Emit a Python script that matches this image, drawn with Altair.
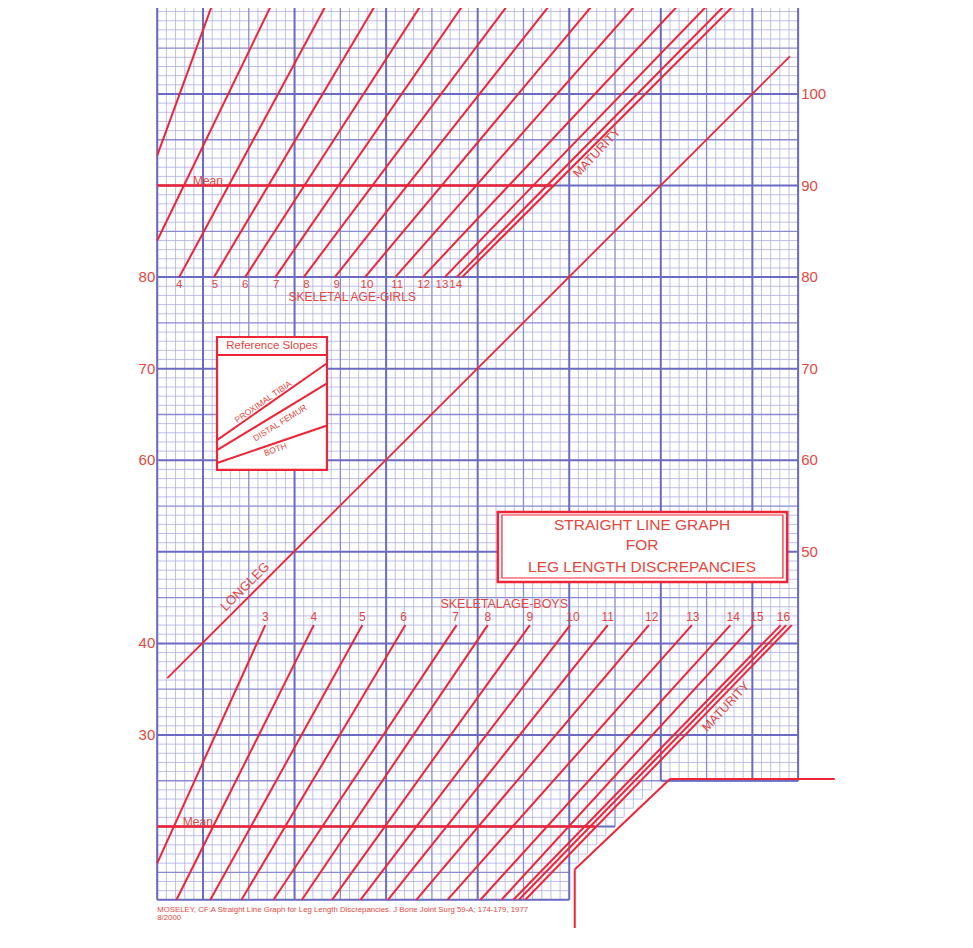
import altair as alt
import pandas as pd

# ---------------- view geometry (chart units) ----------------
X0, X1 = -11.3, 87.0
Y0, Y1 = 8.92, 109.39
W, H = 900, 920

RED = "#ee2536"
TXT = "#e4473e"
MAJOR = "#6a6ac2"
MID = "#8a8ad2"
MINOR = "#aeaee8"
FONT = "Liberation Sans"

# ---------------- data ----------------
left_ticks = [30, 40, 60, 70, 80]
right_ticks = [50, 60, 70, 80, 90, 100]

# girls skeletal-age lines (start -> end)
girls_name = ["2", "3", "4", "5", "6", "7", "8", "9", "10", "11", "12", "13", "14", "maturity"]
girls_x0 = [5.0, 5.0, 7.4, 11.2, 14.6, 17.9, 21.0, 24.4, 27.7, 31.0, 34.0, 36.4, 37.7, 38.3]
girls_y0 = [93.3, 84.0, 80, 80, 80, 80, 80, 80, 80, 80, 80, 80, 80, 80]
girls_x1 = [11.1, 17.6, 23.6, 29.0, 34.0, 38.6, 43.5, 48.1, 52.8, 57.5, 62.2, 65.4, 67.3, 68.3]
girls_y1 = [110, 110, 110, 110, 110, 110, 110, 110, 110, 110, 110, 110, 110, 110]

girls_labels = ["4", "5", "6", "7", "8", "9", "10", "11", "12", "13", "14"]
girls_label_x = [7.4, 11.3, 14.6, 18.0, 21.3, 24.6, 27.9, 31.2, 34.1, 36.1, 37.6]

# boys skeletal-age lines (bottom -> top)
boys_name = ["3", "4", "5", "6", "7", "8", "9", "10", "11", "12", "13", "14", "15", "16", "mat1", "mat2"]
boys_x0 = [5.0, 7.1, 10.8, 14.2, 17.7, 20.8, 24.1, 27.2, 30.2, 33.3, 36.7, 40.3, 42.6, 43.9, 44.5, 45.2]
boys_y0 = [16.0, 12, 12, 12, 12, 12, 12, 12, 12, 12, 12, 12, 12, 12, 12, 12]
boys_x1 = [16.8, 22.1, 27.4, 32.1, 37.7, 41.1, 45.7, 50.1, 54.2, 58.7, 63.4, 67.6, 70.1, 73.1, 73.7, 74.3]
boys_y1 = [42, 42, 42, 42, 42, 42, 42, 42, 42, 42, 42, 42, 42, 42, 42, 42]

boys_labels = ["3", "4", "5", "6", "7", "8", "9", "10", "11", "12", "13", "14", "15", "16"]
boys_label_x = [16.8, 22.1, 27.4, 31.9, 37.6, 41.1, 45.7, 50.4, 54.2, 59.0, 63.5, 67.9, 70.5, 73.4]

# long leg line
longleg_x = [6.1, 74.1]
longleg_y = [36.2, 104.1]

# mean lines
mean_y = [90, 20]
mean_x0 = [5, 5]
mean_x1 = [48.1, 52.8]

# notch outline (red)
notch_x = [50.6, 50.6, 61.0, 79.0]
notch_y = [6.7, 15.3, 25.2, 25.2]

# reference slopes inset
ref_box = [11.53, 58.94, 23.54, 73.46]   # x, y, x2, y2
ref_sep_y = 71.5
slope_name = ["PROXIMAL TIBIA", "DISTAL FEMUR", "BOTH"]
slope_y0 = [62.2, 61.1, 59.7]
slope_y1 = [70.6, 68.4, 63.8]
slope_text_x = [16.55, 18.4, 17.9]
slope_text_y = [66.4, 64.1, 61.2]
slope_text_angle = [325, 328, 340]

# title box
title_outer = [42.2, 46.7, 73.8, 54.35]
title_inner = [42.65, 47.14, 73.34, 54.02]
title_lines = ["STRAIGHT LINE GRAPH", "FOR", "LEG LENGTH DISCREPANCIES"]
title_y = [52.93, 50.75, 48.35]

citation = ["MOSELEY, CF:A Straight Line Graph for Leg Length Discrepancies. J Bone Joint Surg 59-A; 174-179, 1977",
            "8/2000"]
citation_y = [10.9, 10.0]

# ---------------- grid (graph paper, clipped by the notch) ----------------
def y_bottom(v):
    if v <= 50:
        return 12
    if v < 60:
        return 15 + (v - 50)
    return 25


def x_right(h):
    if h >= 25:
        return 75
    if h > 15:
        return 50 + (h - 15)
    return 50


grid_rows = []
for v in range(5, 76):
    lvl = "major" if v % 10 == 0 else ("mid" if v % 5 == 0 else "minor")
    grid_rows.append(dict(x=v, y=y_bottom(v), x2=v, y2=110, level=lvl))
for h in range(12, 111):
    lvl = "major" if h % 10 == 0 else ("mid" if h % 5 == 0 else "minor")
    grid_rows.append(dict(x=5, y=h, x2=x_right(h), y2=h, level=lvl))
grid = pd.DataFrame(grid_rows)
border = pd.DataFrame([
    dict(x=5, y=12, x2=5, y2=110),
    dict(x=75, y=25, x2=75, y2=110),
    dict(x=5, y=12, x2=50, y2=12),
    dict(x=60, y=25, x2=75, y2=25),
])

# ---------------- helpers ----------------
xs = alt.Scale(domain=[X0, X1], nice=False, zero=False)
ys = alt.Scale(domain=[Y0, Y1], nice=False, zero=False)


def rules(df, color, width):
    return alt.Chart(df).mark_rule(color=color, strokeWidth=width, clip=True).encode(
        x=alt.X("x:Q", scale=xs, axis=None),
        y=alt.Y("y:Q", scale=ys, axis=None),
        x2="x2:Q",
        y2="y2:Q",
    )


def texts(df, **kw):
    base = dict(font=FONT, color=TXT)
    base.update(kw)
    return alt.Chart(df).mark_text(**base).encode(
        x=alt.X("x:Q", scale=xs, axis=None),
        y=alt.Y("y:Q", scale=ys, axis=None),
        text="t:N",
    )


def seg_df(x0, y0, x1, y1):
    return pd.DataFrame(dict(x=x0, y=y0, x2=x1, y2=y1))


layers = []
layers.append(rules(grid[grid.level == "minor"], MINOR, 0.8))
layers.append(rules(grid[grid.level == "mid"], MID, 1.3))
layers.append(rules(grid[grid.level == "major"], MAJOR, 2.0))
layers.append(rules(border, MAJOR, 2.0))

# red construction lines
layers.append(rules(seg_df(girls_x0, girls_y0, girls_x1, girls_y1), RED, 2.0))
layers.append(rules(seg_df(boys_x0, boys_y0, boys_x1, boys_y1), RED, 2.0))
layers.append(rules(seg_df([longleg_x[0]], [longleg_y[0]], [longleg_x[1]], [longleg_y[1]]), RED, 1.8))
layers.append(rules(seg_df(mean_x0, mean_y, mean_x1, mean_y), RED, 2.5))
layers.append(rules(seg_df(notch_x[:-1], notch_y[:-1], notch_x[1:], notch_y[1:]), RED, 2.0))

# axis-like labels
layers.append(texts(pd.DataFrame(dict(x=[5] * len(left_ticks), y=left_ticks, t=[str(v) for v in left_ticks])),
                    align="right", baseline="middle", dx=-2, fontSize=15))
layers.append(texts(pd.DataFrame(dict(x=[75] * len(right_ticks), y=right_ticks, t=[str(v) for v in right_ticks])),
                    align="left", baseline="middle", dx=3, fontSize=15))

# age labels
layers.append(texts(pd.DataFrame(dict(x=girls_label_x, y=[80] * len(girls_labels), t=girls_labels)),
                    align="center", baseline="middle", dy=7.5, fontSize=11.5))
layers.append(texts(pd.DataFrame(dict(x=[26.3], y=[80], t=["SKELETAL AGE-GIRLS"])),
                    align="center", baseline="middle", dy=20, fontSize=12))
layers.append(texts(pd.DataFrame(dict(x=boys_label_x, y=[42] * len(boys_labels), t=boys_labels)),
                    align="center", baseline="middle", dy=-8, fontSize=12))
layers.append(texts(pd.DataFrame(dict(x=[42.9], y=[42], t=["SKELETALAGE-BOYS"])),
                    align="center", baseline="middle", dy=-21, fontSize=12.5))

# mean labels
layers.append(texts(pd.DataFrame(dict(x=[8.9, 7.8], y=mean_y, t=["Mean", "Mean"])),
                    align="left", baseline="alphabetic", dy=-1, fontSize=12))

# rotated labels
layers.append(texts(pd.DataFrame(dict(x=[14.6], y=[46.2], t=["LONGLEG"])),
                    align="center", baseline="middle", angle=315, fontSize=13))
layers.append(texts(pd.DataFrame(dict(x=[53.0], y=[93.6], t=["MATURITY"])),
                    align="center", baseline="middle", angle=313, fontSize=12.5))
layers.append(texts(pd.DataFrame(dict(x=[67.1], y=[33.1], t=["MATURITY"])),
                    align="center", baseline="middle", angle=313, fontSize=12.5))


# reference slopes inset
def rect(box, fill, width, stroke=RED):
    df = pd.DataFrame(dict(x=[box[0]], y=[box[1]], x2=[box[2]], y2=[box[3]]))
    kw = dict(stroke=stroke, strokeWidth=width, clip=True)
    if fill is None:
        kw["fillOpacity"] = 0
        kw["fill"] = "white"
    else:
        kw["fill"] = fill
    return alt.Chart(df).mark_rect(**kw).encode(
        x=alt.X("x:Q", scale=xs, axis=None),
        y=alt.Y("y:Q", scale=ys, axis=None),
        x2="x2:Q",
        y2="y2:Q",
    )


layers.append(rect(ref_box, "white", 2.2))
layers.append(rules(seg_df([ref_box[0]], [ref_sep_y], [ref_box[2]], [ref_sep_y]), RED, 2.0))
layers.append(rules(seg_df([ref_box[0]] * 3, slope_y0, [ref_box[2]] * 3, slope_y1), RED, 2.0))
layers.append(texts(pd.DataFrame(dict(x=[(ref_box[0] + ref_box[2]) / 2], y=[(ref_box[3] + ref_sep_y) / 2],
                                      t=["Reference Slopes"])),
                    align="center", baseline="middle", fontSize=11.5))
for name, tx, ty, ang in zip(slope_name, slope_text_x, slope_text_y, slope_text_angle):
    layers.append(texts(pd.DataFrame(dict(x=[tx], y=[ty], t=[name])),
                        align="center", baseline="middle", angle=ang, fontSize=8.5))

# title box
layers.append(rect(title_outer, "white", 2.5))
layers.append(rect(title_inner, None, 1.2))
layers.append(texts(pd.DataFrame(dict(x=[57.95] * 3, y=title_y, t=title_lines)),
                    align="center", baseline="middle", fontSize=15.5))

# citation
layers.append(texts(pd.DataFrame(dict(x=[5, 5], y=citation_y, t=citation)),
                    align="left", baseline="middle", fontSize=7.8))

chart = alt.layer(*layers).properties(
    width=W, height=H, padding=0,
    autosize=alt.AutoSizeParams(type="none"),
    background="white",
).configure_view(stroke=None)

chart.save("out.html", embed_options={"renderer": "svg", "actions": False})
